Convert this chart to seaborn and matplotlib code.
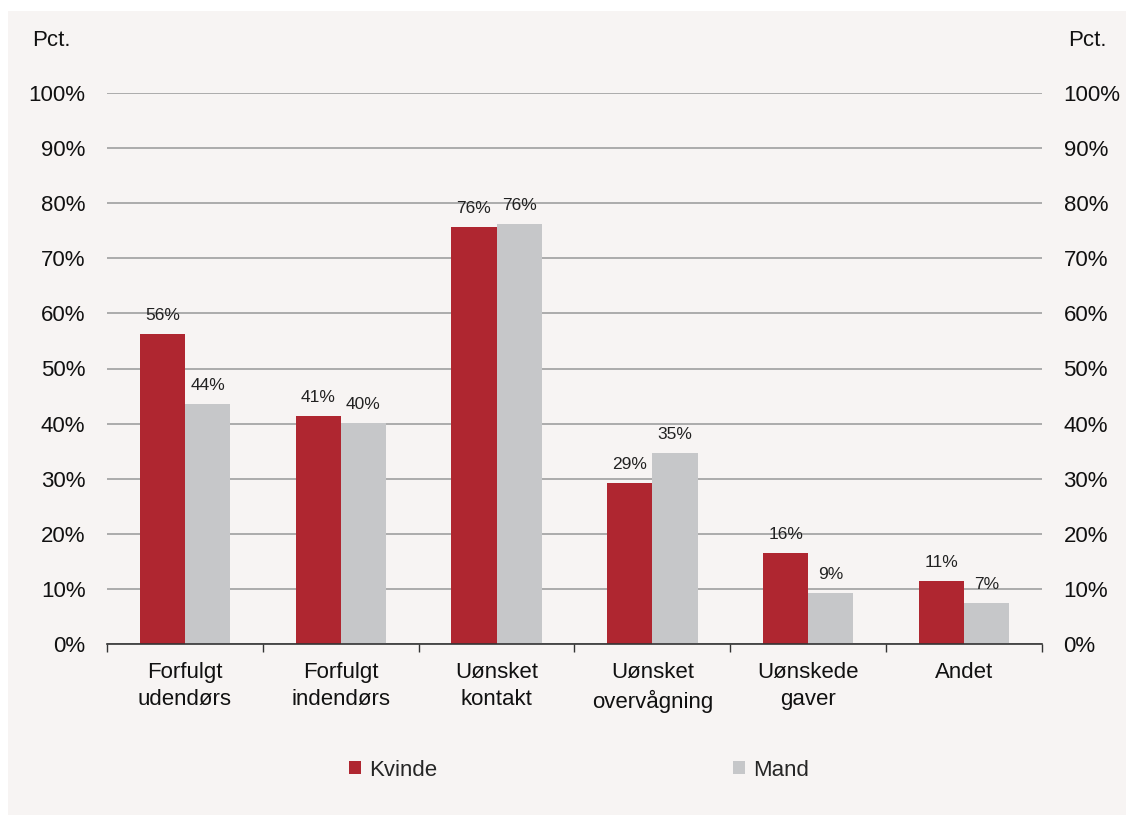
import numpy as np
import pandas as pd
import matplotlib
matplotlib.use("Agg")
import matplotlib.pyplot as plt
import seaborn as sns
from matplotlib.patches import Rectangle

categories = ["Forfulgt\nudendørs", "Forfulgt\nindendørs", "Uønsket\nkontakt",
              "Uønsket\novervågning", "Uønskede\ngaver", "Andet"]
kvinde = [56.3, 41.3, 75.6, 29.2, 16.5, 11.4]
mand = [43.6, 40.1, 76.2, 34.7, 9.3, 7.4]
series = ["Kvinde", "Mand"]
yticks = [0, 10, 20, 30, 40, 50, 60, 70, 80, 90, 100]

df = pd.DataFrame({
    "kategori": categories * 2,
    "køn": [series[0]] * len(categories) + [series[1]] * len(categories),
    "pct": kvinde + mand,
})

sns.set_theme(style="white")
plt.rcParams["font.family"] = ["Liberation Sans", "DejaVu Sans"]

panel = "#f7f4f3"
red = "#af2630"
grey = "#c6c7c9"

fig = plt.figure(figsize=(11.32, 8.18), dpi=100, facecolor="white")
fig.patches.append(Rectangle((8 / 1132, 1 - 815 / 818), (1126 - 8) / 1132, (815 - 11) / 818,
                             transform=fig.transFigure, facecolor=panel, edgecolor="none", zorder=-10))
ax = fig.add_axes([107 / 1132, 1 - 644 / 818, (1042 - 107) / 1132, (644 - 93) / 818])
ax.set_facecolor(panel)

sns.barplot(data=df, x="kategori", y="pct", hue="køn", order=categories, hue_order=series,
            palette=[red, grey], width=0.58, gap=0, saturation=1, ax=ax, edgecolor="none",
            linewidth=0)

for cont, vals in zip(ax.containers, [kvinde, mand]):
    ax.bar_label(cont, labels=[f"{round(v)}%" for v in vals], padding=8, fontsize=12.5, color="#222222")

ax.set_ylim(0, 100)
ax.set_xlim(-0.5, len(categories) - 0.5)
ax.set_yticks(yticks)
ax.set_yticklabels([f"{t}%" for t in yticks])
ax.set_xlabel("")
ax.set_ylabel("")
ax.set_xticks(np.arange(-0.5, len(categories), 1), minor=True)
ax.tick_params(axis="x", which="major", length=0, pad=13, labelsize=16, labelcolor="#111111")
ax.tick_params(axis="x", which="minor", length=6, width=1, color="#333333", direction="out", bottom=True)
ax.tick_params(axis="y", left=False, right=False, labelleft=True, labelright=True, pad=9.5,
               labelsize=16, labelcolor="#111111")
for lbl in ax.get_xticklabels():
    lbl.set_linespacing(1.4)
ax.yaxis.grid(True, color="#a6a6a6", lw=1.3)
ax.set_axisbelow(True)
for s in ["left", "right", "top"]:
    ax.spines[s].set_visible(False)
ax.spines["bottom"].set_color("#333333")
ax.spines["bottom"].set_linewidth(1.2)

handles, labels = ax.get_legend_handles_labels()
ax.legend(handles, labels, ncol=2, loc="center", bbox_to_anchor=(579 / 1132, 1 - 770 / 818),
          bbox_transform=fig.transFigure, frameon=False, fontsize=16, handlelength=0.55,
          handleheight=0.55, handletextpad=0.35, columnspacing=13.3)

fig.text(32 / 1132, 1 - 40 / 818, "Pct.", fontsize=16, ha="left", va="center", color="#111111")
fig.text(1068 / 1132, 1 - 40 / 818, "Pct.", fontsize=16, ha="left", va="center", color="#111111")

fig.savefig("out.png", dpi=100, facecolor="white")
